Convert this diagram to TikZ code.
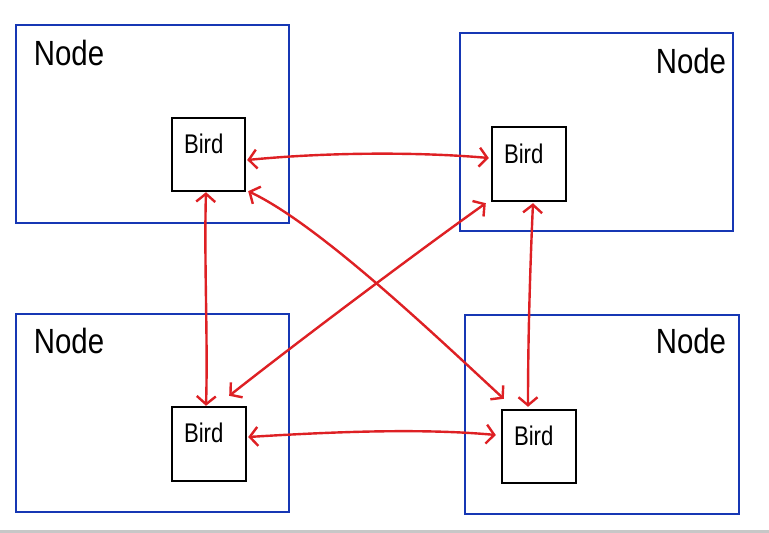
\documentclass[tikz,border=0pt]{standalone}
\usepackage{fontspec}
\setmainfont{Liberation Sans}
\usetikzlibrary{arrows.meta,calc}
\definecolor{boxblue}{RGB}{22,55,180}
\definecolor{linkred}{RGB}{222,32,36}
\tikzset{
  x=1pt, y=1pt,
  container/.style={draw=boxblue, line width=2.6pt, inner sep=0pt, minimum width=273pt, minimum height=198pt},
  birdbox/.style={draw=black, line width=2.4pt, inner sep=0pt, minimum width=73pt, minimum height=73pt},
  nodelabel/.style={inner sep=0pt, font=\fontsize{35}{35}\selectfont},
  birdlabel/.style={inner sep=0pt, font=\fontsize{27}{27}\selectfont},
  link/.style={draw=linkred, line width=2.4pt, line cap=round, line join=round,
    {Straight Barb[length=8pt,width=19pt,line width=2.4pt]}-{Straight Barb[length=8pt,width=19pt,line width=2.4pt]}}
}
\begin{document}
\begin{tikzpicture}
\useasboundingbox (0,0) rectangle (769,-533);
\fill[white] (0,0) rectangle (769,-533);
\fill[black!22] (0,-530) rectangle (769,-533);
% containers
\node[container] (n1) at (152.5,-124) {};
\node[container] (n2) at (596.5,-132) {};
\node[container] (n3) at (152.5,-413) {};
\node[container, minimum width=274pt, minimum height=199pt] (n4) at (602,-414.5) {};
% node labels
\node[nodelabel, anchor=base west] (l1) at ($(n1.north west)+(19,-42)$) {\scalebox{0.84}[1]{Node}};
\node[nodelabel, anchor=base east] (l2) at ($(n2.north east)+(-8,-42)$) {\scalebox{0.84}[1]{Node}};
\node[nodelabel, anchor=base west] (l3) at ($(n3.north west)+(19,-41)$) {\scalebox{0.84}[1]{Node}};
\node[nodelabel, anchor=base east] (l4) at ($(n4.north east)+(-14,-40)$) {\scalebox{0.84}[1]{Node}};
% birds
\node[birdbox] (b1) at (208.5,-154.5) {};
\node[birdbox, minimum width=74pt, minimum height=74pt] (b2) at (529,-164) {};
\node[birdbox, minimum width=74pt, minimum height=74pt] (b3) at (209,-444) {};
\node[birdbox, minimum width=74pt] (b4) at (539,-446.5) {};
\node[birdlabel, anchor=base west] (t1) at ($(b1.north west)+(13,-37)$) {\scalebox{0.82}[1]{Bird}};
\node[birdlabel, anchor=base west] (t2) at ($(b2.north west)+(13,-38)$) {\scalebox{0.82}[1]{Bird}};
\node[birdlabel, anchor=base west] (t3) at ($(b3.north west)+(13,-37)$) {\scalebox{0.82}[1]{Bird}};
\node[birdlabel, anchor=base west] (t4) at ($(b4.north west)+(13,-37)$) {\scalebox{0.82}[1]{Bird}};
% links
\draw[link] ($(b1.east)+(1,-5.5)$) .. controls (330,-152) and (420,-152) .. ($(b2.west)+(-2,6)$);
\draw[link] ($(b1.south)+(-2.5,0)$) .. controls (204,-260) and (208,-340) .. ($(b3.north)+(-3,0)$);
\draw[link] ($(b2.south)+(4,-1)$) .. controls (530,-270) and (528,-340) .. ($(b4.north)+(-11,2)$);
\draw[link] ($(b3.east)+(1,7)$) .. controls (330,-432) and (420,-428) .. ($(b4.west)+(-5,11.5)$);
\draw[link] ($(b2.south west)+(-5,-1)$) .. controls (420,-250) and (300,-340) .. ($(b3.north east)+(-18,10)$);
\draw[link] ($(b1.south east)+(2,1)$) .. controls (320,-225) and (440,-340) .. ($(b4.north west)+(3,10)$);
\end{tikzpicture}
\end{document}
